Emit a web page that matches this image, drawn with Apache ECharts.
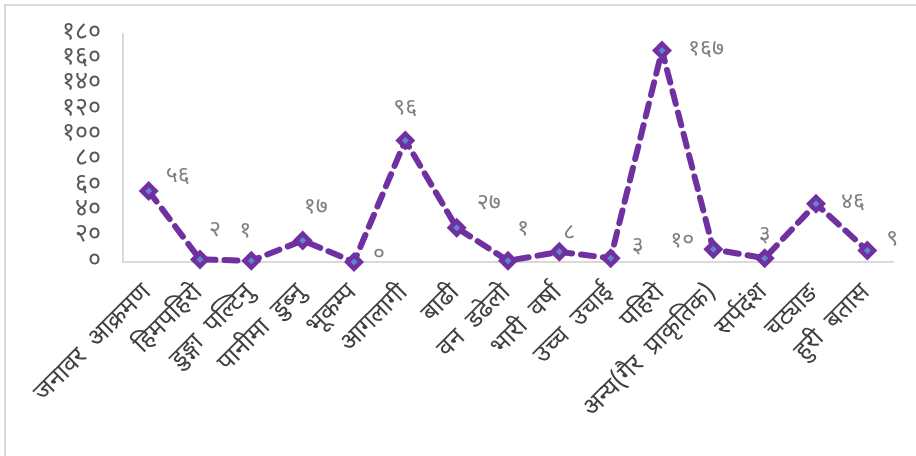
<!DOCTYPE html>
<html>
<head>
<meta charset="utf-8">
<script src="https://cdn.jsdelivr.net/npm/echarts@6/dist/echarts.min.js"></script>
<style>html,body{margin:0;padding:0;background:#fff}#c{width:916px;height:456px}</style>
</head>
<body>
<div id="c"></div>
<script>
const categories = ["जनावर  आक्रमण","हिमपहिरो","डुङ्गा  पल्टिनु","पानीमा  डुब्नु","भूकम्प","आगलागी","बाढी","वन  डढेलो","भारी  वर्षा","उच्च  उचाई","पहिरो","अन्य(गैर  प्राकृतिक)","सर्पदंश","चट्याङ","हुरी  बतास"];
const values = [56, 2, 1, 17, 0, 96, 27, 1, 8, 3, 167, 10, 3, 46, 9];
const yTicks = [0, 20, 40, 60, 80, 100, 120, 140, 160, 180];
// label placement offsets (layout only)
const labelOffsets = [[29,-13],[15,-28],[-6,-28],[13,-32],[25,-5],[0,-31],[32,-23],[15,-30],[10,-17],[27,-10],[44,0],[-31,-7],[0,-21],[37,0],[25,-10]];

const devDigits = ['०','१','२','३','४','५','६','७','८','९'];
function toDev(n){ return String(n).replace(/[0-9]/g, d => devDigits[+d]); }
const FONT = "'Noto Sans Devanagari','Noto Sans','Lohit Devanagari',sans-serif";

const chart = echarts.init(document.getElementById('c'));
chart.setOption({
  animation: false,
  backgroundColor: '#fff',
  textStyle: { fontFamily: FONT },
  graphic: [{
    type: 'rect', shape: { x: 5, y: 5, width: 1000, height: 1000 },
    style: { fill: 'none', stroke: '#d9d9d9', lineWidth: 2 }, silent: true
  }],
  grid: { left: 123, right: 23, top: 34, bottom: 194, containLabel: false },
  xAxis: {
    type: 'category', data: categories, boundaryGap: true,
    axisLine: { lineStyle: { color: '#d9d9d9', width: 2 } },
    axisTick: { show: false },
    axisLabel: { rotate: 45, interval: 0, color: '#404040', fontSize: 25, margin: 28, fontFamily: FONT }
  },
  yAxis: {
    type: 'value', min: yTicks[0], max: yTicks[yTicks.length - 1], interval: yTicks[1] - yTicks[0],
    axisLine: { show: true, lineStyle: { color: '#d9d9d9', width: 2 } },
    axisTick: { show: false },
    splitLine: { show: false },
    axisLabel: { color: '#595959', fontSize: 25, margin: 22, showMinLabel: true, showMaxLabel: true, formatter: v => toDev(v), fontFamily: FONT }
  },
  series: [{
    type: 'line',
    data: values.map((v, i) => ({ value: v, label: { offset: labelOffsets[i] } })),
    symbol: 'diamond', symbolSize: 20,
    itemStyle: { color: '#7030A0' },
    lineStyle: { color: '#7030A0', width: 6, type: [13, 9], cap: 'round' },
    label: { show: true, position: 'inside', color: '#7f7f7f', fontSize: 23, formatter: p => toDev(p.value), fontFamily: FONT },
    z: 2
  }, {
    type: 'scatter',
    data: values,
    symbol: 'diamond', symbolSize: 7,
    itemStyle: { color: '#5B9BD5' },
    z: 3, silent: true
  }]
});
</script>
</body>
</html>
